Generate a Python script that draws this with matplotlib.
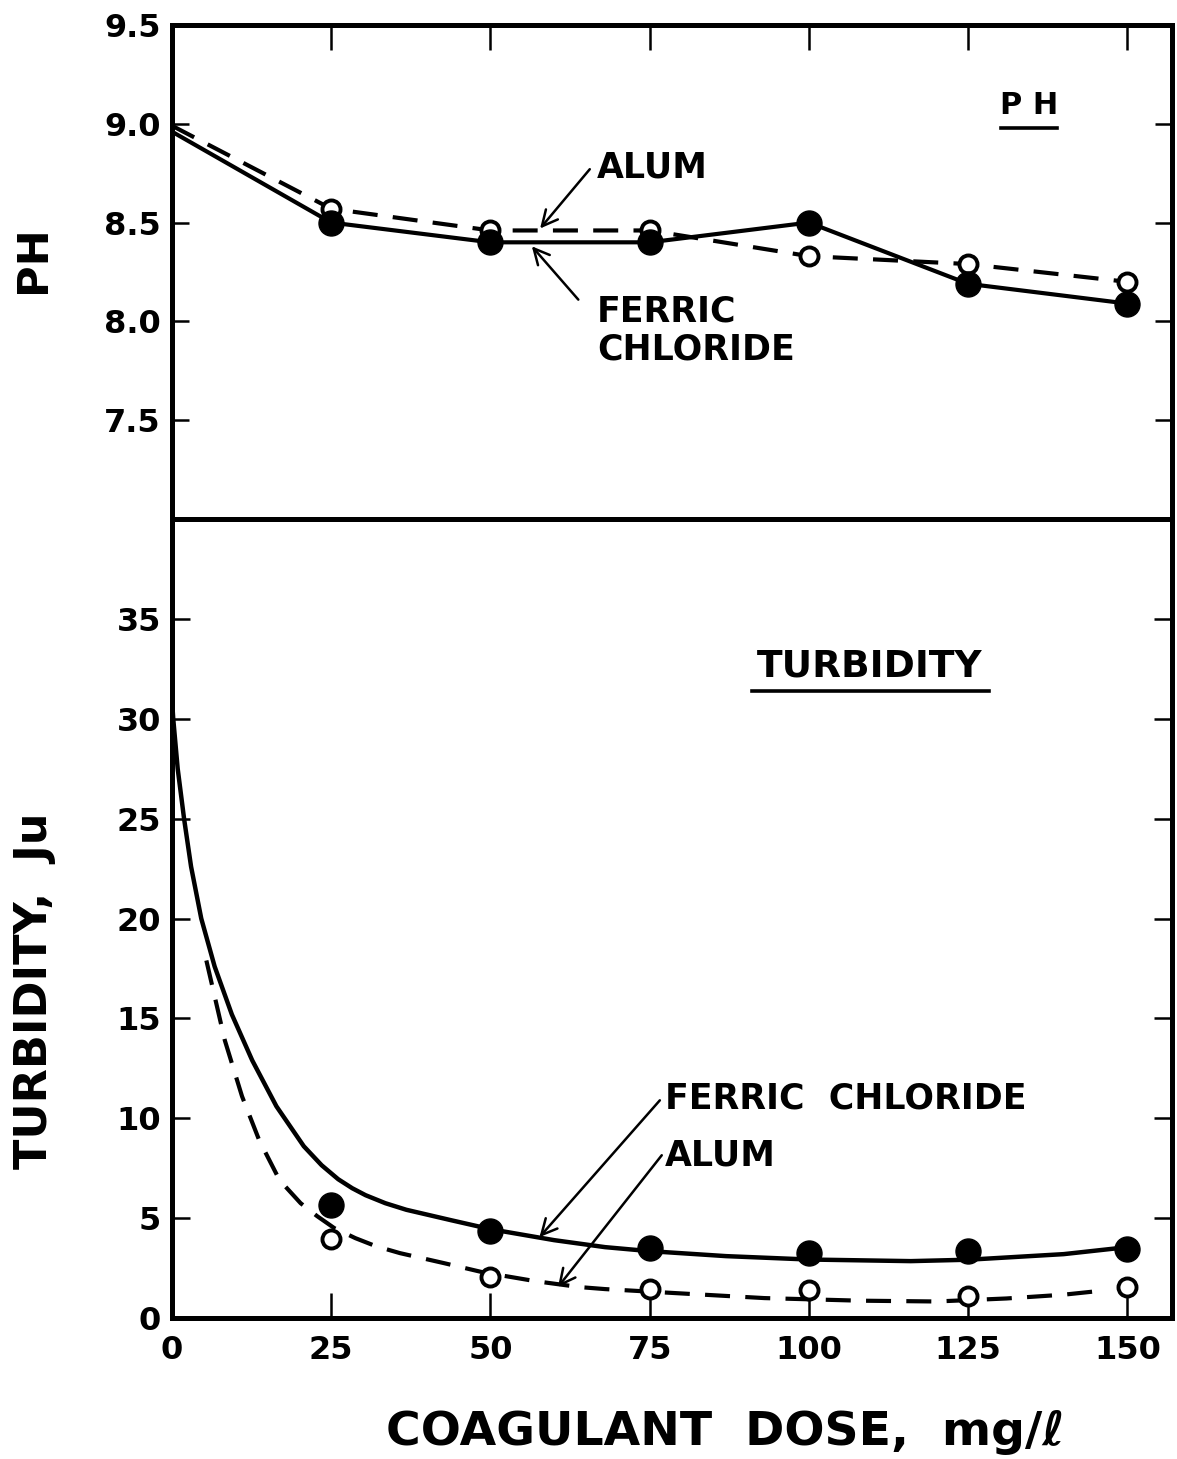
import matplotlib
matplotlib.use("Agg")
import matplotlib.pyplot as plt

# --- data ---
dose = [0, 25, 50, 75, 100, 125, 150]
ph_ferric = [8.96, 8.50, 8.40, 8.40, 8.50, 8.19, 8.09]
ph_alum = [8.99, 8.57, 8.46, 8.46, 8.33, 8.29, 8.20]

turb_dose = [25, 50, 75, 100, 125, 150]
turb_ferric = [5.65, 4.35, 3.53, 3.25, 3.37, 3.45]
turb_alum = [3.95, 2.05, 1.47, 1.42, 1.10, 1.55]

# hand drawn smooth curves through the turbidity points
ferric_curve_x = [0.0, 0.2, 0.9, 1.9, 3.0, 4.6, 6.7, 9.4, 12.6, 16.4, 20.7, 23.5, 26.1, 28.3,
                  30.4, 33.5, 36.8, 43.8, 50, 60, 68, 75, 87, 100, 116, 125, 140, 150]
ferric_curve_y = [31.0, 30.0, 27.5, 25.0, 22.6, 20.0, 17.6, 15.2, 12.9, 10.6, 8.6, 7.65, 6.95, 6.5,
                  6.15, 5.75, 5.42, 4.9, 4.45, 3.9, 3.55, 3.35, 3.1, 2.93, 2.85, 2.92, 3.2, 3.55]
alum_curve_x = [5.4, 8.3, 11.0, 13.7, 16.9, 20.2, 22.8, 25.5, 28.8, 32, 35.8, 42.7, 48.7, 57, 64,
                68, 79, 93, 108, 120, 131, 140, 146]
alum_curve_y = [17.9, 13.9, 11.1, 8.9, 6.9, 5.75, 5.1, 4.5, 4.0, 3.6, 3.25, 2.75, 2.3, 1.85, 1.55,
                1.45, 1.25, 1.0, 0.87, 0.83, 0.98, 1.17, 1.37]

x_ticks = [0, 25, 50, 75, 100, 125, 150]
ph_ticks = [7.5, 8.0, 8.5, 9.0, 9.5]
turb_ticks = [0, 5, 10, 15, 20, 25, 30, 35]

plt.rcParams['font.family'] = ['DejaVu Sans']
plt.rcParams['font.weight'] = 'bold'
plt.rcParams['axes.labelweight'] = 'bold'
plt.rcParams['lines.scale_dashes'] = False

fig = plt.figure(figsize=(11.77, 14.59), dpi=100)
ax1 = fig.add_axes([0.1461, 0.6443, 0.8496, 0.3386])
ax2 = fig.add_axes([0.1461, 0.0966, 0.8496, 0.5477])

DASH = (0, (18, 11))
FS_TICK = 23
FS_NOTE = 25
ARROW = dict(arrowstyle='->', lw=1.8, color='black', shrinkA=0, shrinkB=0, mutation_scale=28)

for ax in (ax1, ax2):
    for s in ax.spines.values():
        s.set_linewidth(3.6)
    ax.set_xlim(0, 157)

# ---------- pH panel ----------
ax1.plot(dose, ph_ferric, color='black', lw=3.0)
ax1.plot(dose, ph_alum, color='black', lw=3.0, linestyle=DASH)
ax1.plot(dose[1:], ph_alum[1:], 'o', ms=13, mfc='white', mec='black', mew=2.8, zorder=3)
ax1.plot(dose[1:], ph_ferric[1:], 'o', ms=18, color='black', zorder=4)
ax1.set_ylim(7.0, 9.5)
ax1.set_yticks(ph_ticks)
ax1.set_yticklabels(['7.5', '8.0', '8.5', '9.0', '9.5'])
ax1.set_yticks([8.0, 9.0], minor=True)
ax1.set_xticks(x_ticks[1:])
ax1.tick_params(axis='x', which='major', direction='in', top=True, bottom=False,
                labelbottom=False, length=18, width=1.8)
ax1.tick_params(axis='y', which='major', direction='in', left=True, right=True,
                length=12.5, width=1.8, labelsize=FS_TICK, pad=8)
ax1.tick_params(axis='y', which='minor', direction='in', left=True, right=False,
                length=20, width=1.8)
ax1.set_ylabel('PH', fontsize=31, va='center')
ax1.yaxis.set_label_coords(-0.139, 0.525)

ax1.text(134.5, 9.09, 'P H', fontsize=22, ha='center', va='center')
ax1.plot([130.2, 139.0], [8.98, 8.98], color='black', lw=2.6)

ax1.annotate('', xy=(57.8, 8.47), xytext=(65.6, 8.77), arrowprops=ARROW)
ax1.text(66.7, 8.78, 'ALUM', fontsize=FS_NOTE, ha='left', va='center')
ax1.annotate('', xy=(56.5, 8.38), xytext=(63.8, 8.11), arrowprops=ARROW)
ax1.text(66.7, 7.955, 'FERRIC\nCHLORIDE', fontsize=FS_NOTE, ha='left', va='center',
         linespacing=1.15)

# ---------- turbidity panel ----------
ax2.plot(ferric_curve_x, ferric_curve_y, color='black', lw=3.2)
ax2.plot(alum_curve_x, alum_curve_y, color='black', lw=3.0, linestyle=DASH)
ax2.plot(turb_dose, turb_alum, 'o', ms=13, mfc='white', mec='black', mew=2.8, zorder=3)
ax2.plot(turb_dose, turb_ferric, 'o', ms=18, color='black', zorder=4)
ax2.set_ylim(0, 40)
ax2.set_yticks(turb_ticks)
ax2.set_yticks([10, 20, 30], minor=True)
ax2.set_xticks(x_ticks)
ax2.set_xticklabels([str(v) for v in x_ticks])
ax2.tick_params(axis='x', which='major', direction='in', top=False, bottom=True,
                length=18, width=1.8, labelsize=FS_TICK, pad=12)
ax2.tick_params(axis='y', which='major', direction='in', left=True, right=True,
                length=13, width=1.8, labelsize=FS_TICK, pad=8)
ax2.tick_params(axis='y', which='minor', direction='in', left=True, right=False,
                length=23, width=1.8)
ax2.set_ylabel('TURBIDITY,  Ju', fontsize=32, va='center')
ax2.yaxis.set_label_coords(-0.137, 0.41)
ax2.set_xlabel('COAGULANT  DOSE,  mg/ℓ', fontsize=34, va='center')
ax2.xaxis.set_label_coords(0.553, -0.143)

ax2.text(109.5, 32.6, 'TURBIDITY', fontsize=27, ha='center', va='center')
ax2.plot([91.0, 128.2], [31.4, 31.4], color='black', lw=2.6)

ax2.annotate('', xy=(57.7, 4.05), xytext=(76.6, 10.9), arrowprops=ARROW)
ax2.text(77.4, 11.0, 'FERRIC  CHLORIDE', fontsize=FS_NOTE, ha='left', va='center')
ax2.annotate('', xy=(60.6, 1.55), xytext=(76.9, 8.15), arrowprops=ARROW)
ax2.text(77.4, 8.15, 'ALUM', fontsize=FS_NOTE, ha='left', va='center')

fig.savefig('out.png', dpi=100)
